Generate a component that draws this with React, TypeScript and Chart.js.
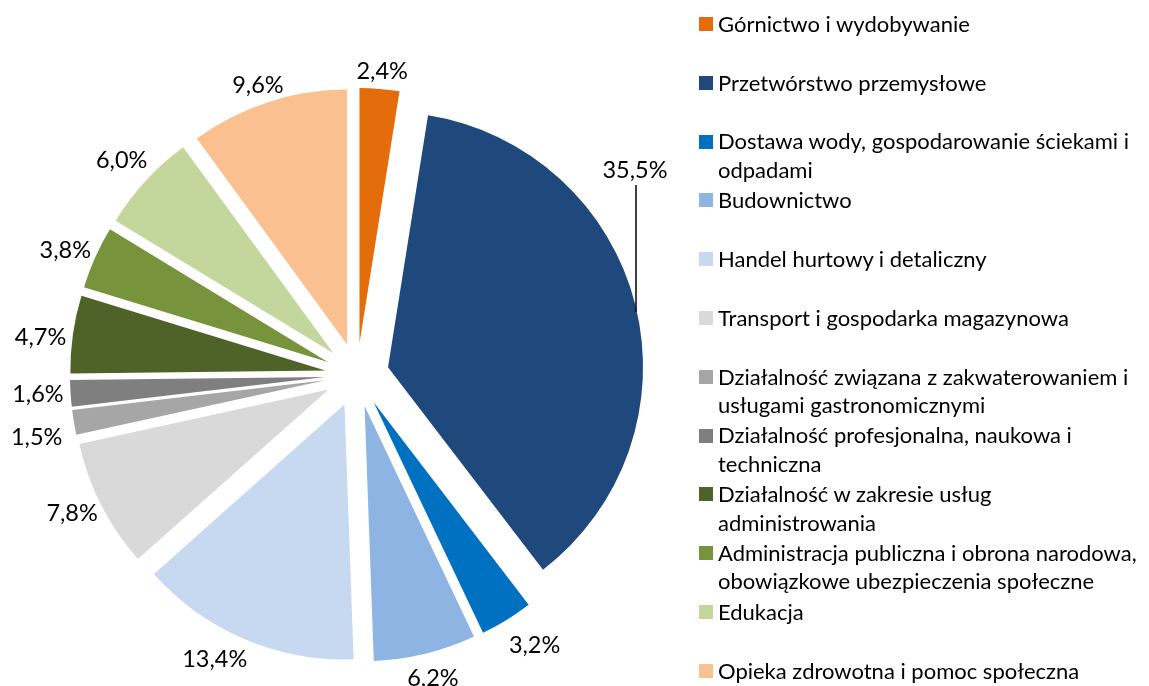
import React, { useEffect, useRef } from "react";
import { Chart, registerables } from "chart.js";

Chart.register(...registerables);

const CATEGORIES = [
  "Górnictwo i wydobywanie",
  "Przetwórstwo przemysłowe",
  "Dostawa wody, gospodarowanie ściekami i odpadami",
  "Budownictwo",
  "Handel hurtowy i detaliczny",
  "Transport i gospodarka magazynowa",
  "Działalność związana z zakwaterowaniem i usługami gastronomicznymi",
  "Działalność profesjonalna, naukowa i techniczna",
  "Działalność w zakresie usług administrowania",
  "Administracja publiczna i obrona narodowa, obowiązkowe ubezpieczenia społeczne",
  "Edukacja",
  "Opieka zdrowotna i pomoc społeczna",
];

const VALUES = [2.4, 35.5, 3.2, 6.2, 13.4, 7.8, 1.5, 1.6, 4.7, 3.8, 6.0, 9.6];

const COLORS = [
  "#E46C0A",
  "#1F497D",
  "#0070C0",
  "#8EB4E3",
  "#C6D9F1",
  "#D9D9D9",
  "#A6A6A6",
  "#7F7F7F",
  "#4F6228",
  "#77933C",
  "#C3D69B",
  "#FAC090",
];

// styling / layout
const FONT = "Lato, 'Open Sans', sans-serif";
const EXPLODE = 32; // px each slice is pulled out along its bisector
const PIE_RADIUS = 255;
const LABEL_SIZE = 23.5;
const LABEL_GAP = 7;
const LEGEND_SIZE = 22;
const LEGEND_LH = 28.5;
const LEGEND_PITCH = 58.8;
const LEGEND_FIRST = 24;

const LABEL_NUDGE: Record<number, [number, number]> = {
  2: [11, 10],
  3: [0, 7],
  4: [-14, 4],
  6: [-5, 12],
  8: [0, 6],
  10: [0, -8],
};
const LABEL_POLAR: Record<number, { angle: number; dist: number; leader: boolean }> = {
  1: { angle: 53.6, dist: 345.4, leader: true },
};

const fmt = (v: number) => v.toFixed(1).replace(".", ",") + "%";

const slicePlugin = {
  id: "explodedSlices",
  beforeDatasetDraw(chart: any, args: any) {
    // draw each arc element pulled out along its bisector
    const ctx = chart.ctx as CanvasRenderingContext2D;
    const meta = args.meta;
    meta.data.forEach((arc: any) => {
      const mid = (arc.startAngle + arc.endAngle) / 2;
      ctx.save();
      ctx.translate(Math.cos(mid) * EXPLODE, Math.sin(mid) * EXPLODE);
      arc.draw(ctx, chart.chartArea);
      ctx.restore();
    });
    return false;
  },
  afterDatasetsDraw(chart: any) {
    const ctx = chart.ctx as CanvasRenderingContext2D;
    const meta = chart.getDatasetMeta(0);
    ctx.save();
    ctx.font = `${LABEL_SIZE}px ${FONT}`;
    ctx.fillStyle = "#000";
    ctx.textAlign = "center";
    ctx.textBaseline = "middle";
    const h = 22;
    meta.data.forEach((arc: any, i: number) => {
      const { x, y, startAngle, endAngle, outerRadius: r } = arc.getProps(
        ["x", "y", "startAngle", "endAngle", "outerRadius"],
        true
      );
      const mid = (startAngle + endAngle) / 2;
      const cos = Math.cos(mid);
      const sin = Math.sin(mid);
      const text = fmt(VALUES[i]);
      const w = ctx.measureText(text).width;
      let lx: number;
      let ly: number;
      const ov = LABEL_POLAR[i];
      if (ov) {
        const a = (ov.angle * Math.PI) / 180 - Math.PI / 2;
        lx = x + Math.cos(a) * ov.dist;
        ly = y + Math.sin(a) * ov.dist;
      } else {
        const d = r + EXPLODE + LABEL_GAP;
        lx = x + cos * d + (cos * w) / 2;
        ly = y + sin * d + (sin * h) / 2;
        const n = LABEL_NUDGE[i];
        if (n) {
          lx += n[0];
          ly += n[1];
        }
      }
      ctx.fillText(text, lx, ly);
      if (ov && ov.leader) {
        const cx = x + cos * EXPLODE;
        const cy = y + sin * EXPLODE;
        const lineX = lx + 1;
        const dx = lineX - cx;
        const yEdge = cy - Math.sqrt(Math.max(r * r - dx * dx, 0));
        ctx.beginPath();
        ctx.strokeStyle = "#000";
        ctx.lineWidth = 1.5;
        ctx.moveTo(lineX, ly + 15);
        ctx.lineTo(lineX, yEdge + 4);
        ctx.stroke();
      }
    });
    ctx.restore();
  },
};

export default function App() {
  const ref = useRef<HTMLCanvasElement | null>(null);

  useEffect(() => {
    if (!ref.current) return;
    const chart = new Chart(ref.current, {
      type: "pie",
      data: {
        labels: CATEGORIES,
        datasets: [
          {
            data: VALUES,
            backgroundColor: COLORS,
            borderWidth: 0,
            offset: 0,
            hoverOffset: 0,
            radius: PIE_RADIUS,
          } as any,
        ],
      },
      options: {
        responsive: false,
        animation: false,
        events: [],
        layout: { padding: { left: 0, right: 435, top: 64, bottom: 0 } },
        plugins: {
          legend: { display: false },
          tooltip: { enabled: false },
        },
      } as any,
      plugins: [slicePlugin],
    });
    return () => chart.destroy();
  }, []);

  return (
    <div
      style={{
        position: "fixed",
        left: 0,
        top: 0,
        width: 1149,
        height: 686,
        overflow: "hidden",
        background: "#fff",
      }}
    >
      <canvas ref={ref} width={1149} height={686} style={{ display: "block" }} />
      <div style={{ position: "absolute", left: 699, top: 0, width: 450, height: 686 }}>
        {CATEGORIES.map((c, i) => (
          <div
            key={i}
            style={{
              position: "absolute",
              left: 0,
              top: LEGEND_FIRST + i * LEGEND_PITCH - LEGEND_LH / 2,
              display: "flex",
              alignItems: "flex-start",
            }}
          >
            <span
              style={{
                width: 14,
                height: 14,
                background: COLORS[i],
                marginTop: (LEGEND_LH - 14) / 2,
                flex: "none",
              }}
            />
            <span
              style={{
                marginLeft: 5,
                width: 431,
                fontFamily: FONT,
                fontSize: LEGEND_SIZE,
                lineHeight: LEGEND_LH + "px",
                color: "#000",
              }}
            >
              {c}
            </span>
          </div>
        ))}
      </div>
    </div>
  );
}
